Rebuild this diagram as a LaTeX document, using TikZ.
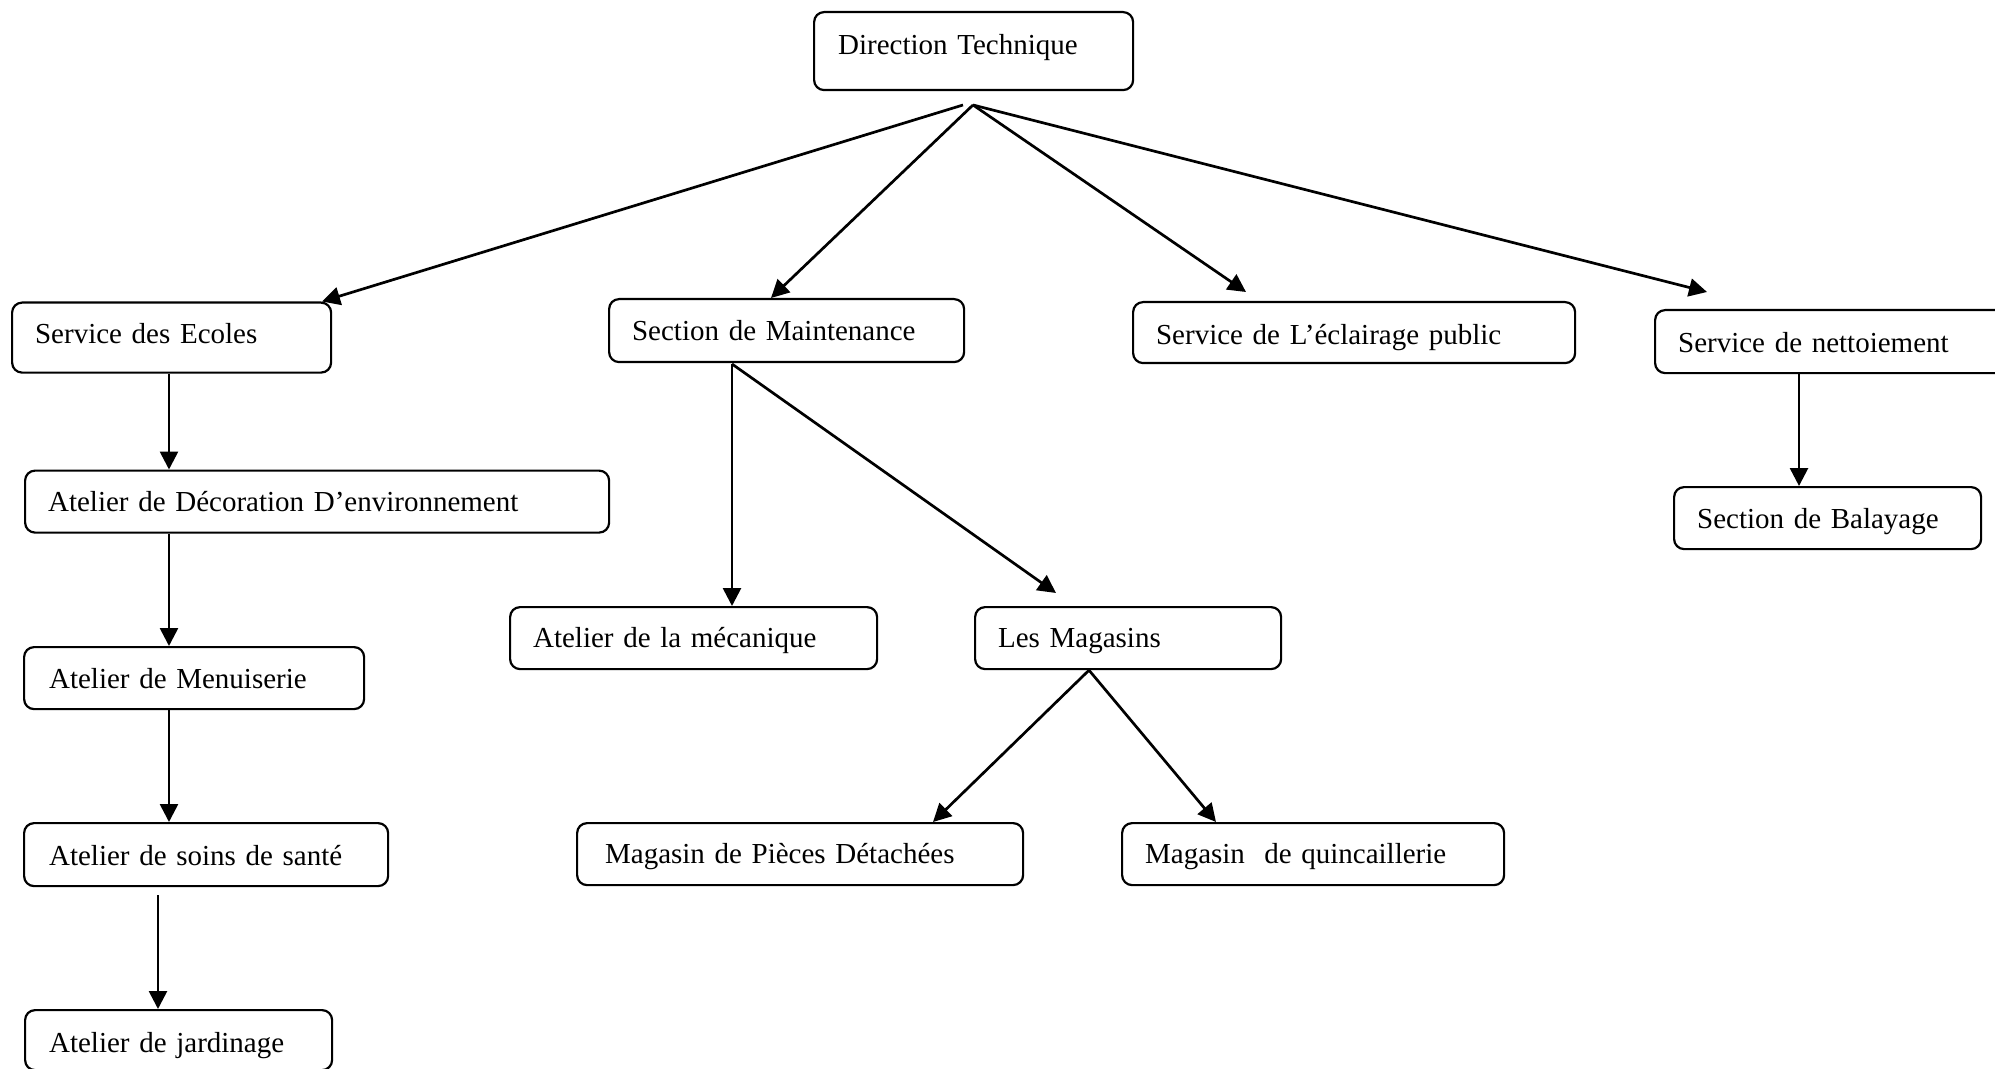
\documentclass[tikz,border=0pt]{standalone}
\usepackage{fontspec}
\setmainfont{Liberation Serif}
\usetikzlibrary{arrows.meta}
\tikzset{
  box/.style={draw, line width=1.1pt, rounded corners=5pt, anchor=north west,
    align=left, inner ysep=0pt, text height=12pt,
    font=\fontsize{14.5pt}{17pt}\selectfont},
  arr/.style={line width=1.35pt, -{Triangle[length=9pt,width=9pt]}}
}
\begin{document}
\begin{tikzpicture}[x=0.5pt,y=-0.5pt]
\useasboundingbox (0,0) rectangle (1995,1069);
\clip (0,0) rectangle (1995,1069);
% boxes: left, top ; width, height in px (1px = 0.5pt)
\node[box, inner xsep=12pt, text width=135.5pt, minimum height=39pt, text depth=9pt] (dt) at (813,11) {Direction Technique};
\node[box, inner xsep=11.5pt, text width=136.5pt, minimum height=35pt, text depth=6pt] (ecoles) at (11,301.5) {Service des Ecoles};
\node[box, inner xsep=11.5pt, text width=154.5pt, minimum height=31.5pt, text depth=2.5pt] (maint) at (608,298) {Section de Maintenance};
\node[box, inner xsep=11.5pt, text width=198pt, minimum height=30.5pt, text depth=0.5pt] (eclair) at (1132,301) {Service de L’éclairage public};
\node[box, inner xsep=11.5pt, text width=157pt, minimum height=31.5pt, text depth=1.5pt] (nett) at (1654,309) {Service de nettoiement};
\node[box, inner xsep=11.5pt, text width=130.5pt, minimum height=31pt, text depth=1.5pt] (bal) at (1673,486) {Section de Balayage};
\node[box, inner xsep=11.5pt, text width=269pt, minimum height=31pt, text depth=2pt] (deco) at (24,469.5) {Atelier de Décoration D’environnement};
\node[box, inner xsep=12.5pt, text width=145pt, minimum height=31pt, text depth=1.5pt] (menu) at (23,646) {Atelier de Menuiserie};
\node[box, inner xsep=12.5pt, text width=157pt, minimum height=31.5pt, text depth=1.5pt] (soins) at (23,822) {Atelier de soins de santé};
\node[box, inner xsep=12pt, text width=129.5pt, minimum height=30pt, text height=12.8pt, text depth=0pt] (jard) at (24,1009) {Atelier de jardinage};
\node[box, inner xsep=11.5pt, text width=160.5pt, minimum height=31pt, text depth=3pt] (meca) at (509,606) {Atelier de la mécanique};
\node[box, inner xsep=11.5pt, text width=130pt, minimum height=31pt, text depth=3pt] (mag) at (974,606) {Les Magasins};
\node[box, inner xsep=14pt, text width=195pt, minimum height=31pt, text depth=2.5pt] (pieces) at (576,822) {Magasin de Pièces Détachées};
\node[box, inner xsep=11.5pt, text width=168pt, minimum height=31pt, text depth=2.5pt] (quinc) at (1121,822) {Magasin\ \ de quincaillerie};
% junction points and free ends
\coordinate (dtl) at (963,105);
\coordinate (dtr) at (973,105);
\coordinate (ecltip) at (1246,292);
\coordinate (netttip) at (1707,292);
\coordinate (mj) at (732,364);
\coordinate (magtip) at (1056,593);
\coordinate (soinsj) at (158,895);
% connectors
\draw[arr] (dtl) -- (322,0 |- ecoles.north);
\draw[arr] (dtr) -- (771,0 |- maint.north);
\draw[arr] (dtr) -- (ecltip);
\draw[arr] (dtr) -- (netttip);
\draw[arr] (mj) -- (732,0 |- meca.north);
\draw[arr] (mj) -- (magtip);
\draw[arr] (1089,0 |- mag.south) -- (933,0 |- pieces.north);
\draw[arr] (1089,0 |- mag.south) -- (1216,0 |- quinc.north);
\draw[arr] (169,0 |- ecoles.south) -- (169,0 |- deco.north);
\draw[arr] (169,0 |- deco.south) -- (169,0 |- menu.north);
\draw[arr] (169,0 |- menu.south) -- (169,0 |- soins.north);
\draw[arr] (soinsj) -- (158,0 |- jard.north);
\draw[arr] (1799,0 |- nett.south) -- (1799,0 |- bal.north);
\end{tikzpicture}
\end{document}
